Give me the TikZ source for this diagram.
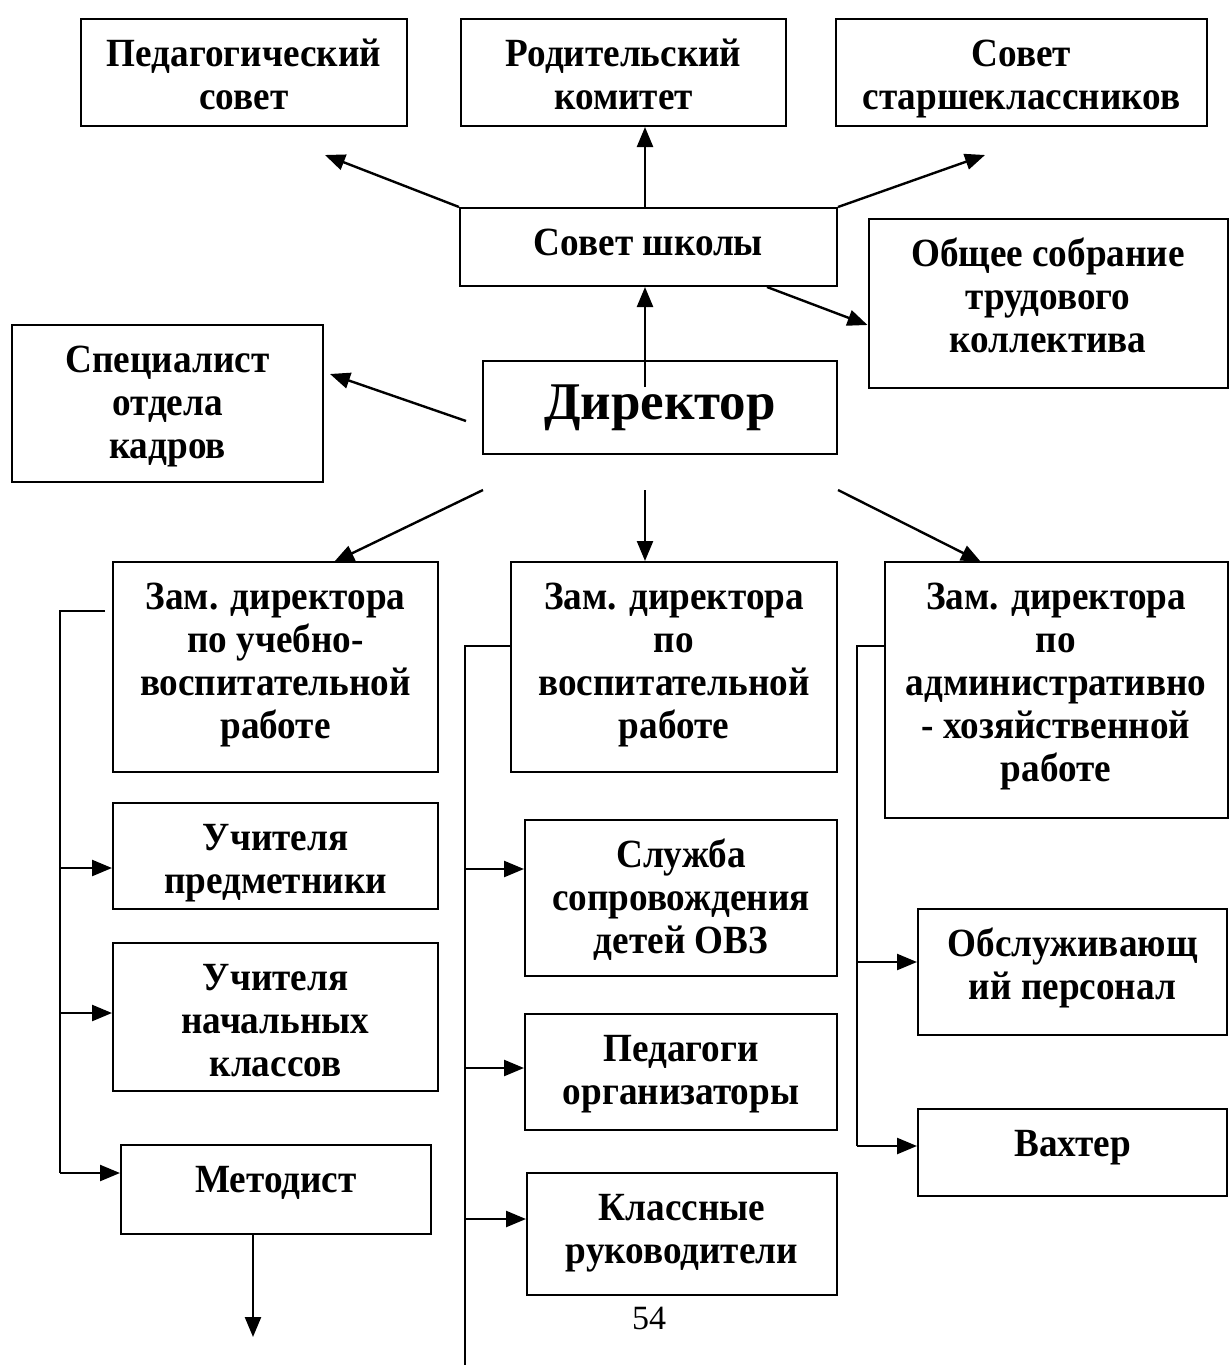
\documentclass[tikz,border=0pt]{standalone}
\usepackage{fontspec}
\setmainfont{Liberation Serif}
\newfontfamily\bxfont{Liberation Serif}[FakeStretch=0.93]
\usetikzlibrary{arrows.meta}
\newcommand{\bt}[3]{\begin{minipage}[c][#2pt][t]{#1pt}\centering\vspace*{17pt}\strut #3\strut\end{minipage}}
\tikzset{
  box/.style={draw, line width=2pt, inner sep=0pt,
    font=\bxfont\fontsize{40}{43}\selectfont\bfseries},
  arr/.style={line width=2.4pt, -{Triangle[length=20pt,width=16pt]}},
  ln/.style={line width=2.4pt}
}
\begin{document}
\begin{tikzpicture}[x=1pt,y=-1pt]
\useasboundingbox (0,0) rectangle (1229,1365);
% top row
\node[box] (ped) at (244,72.5) {\bt{326}{107}{Педагогический\\совет}};
\node[box] (rod) at (623.5,72.5) {\bt{325}{107}{Родительский\\комитет}};
\node[box] (star) at (1021.5,72.5) {\bt{371}{107}{Совет\\старшеклассников}};
% council
\node[box] (sovet) at (648.5,247) {\bt{377}{78}{Совет школы}};
\node[box] (obsh) at (1048,303.5) {\bt{359}{169}{Общее собрание\\трудового\\коллектива}};
\node[box] (spec) at (167.5,403.5) {\bt{311}{157}{Специалист\\отдела\\кадров}};
\node[box, minimum width=354, minimum height=93, font=\fontsize{53}{60}\selectfont\bfseries] (dir) at (660,407.5) {Директор};
% deputies
\node[box] (zuvr) at (275.5,667) {\bt{325}{210}{Зам. директора\\по учебно-\\воспитательной\\работе}};
\node[box] (zvr) at (674,667) {\bt{326}{210}{Зам. директора\\по\\воспитательной\\работе}};
\node[box] (zahr) at (1056,690) {\bt{343}{256}{Зам. директора\\по\\административно\\- хозяйственной\\работе}};
% left column
\node[box] (uchp) at (275.5,856) {\bt{325}{106}{Учителя\\предметники}};
\node[box] (uchn) at (275.5,1017) {\bt{325}{148}{Учителя\\начальных\\классов}};
\node[box] (met) at (276,1189.5) {\bt{310}{89}{Методист}};
% middle column
\node[box] (sluzh) at (681,898) {\bt{312}{156}{Служба\\сопровождения\\детей ОВЗ}};
\node[box] (pedorg) at (681,1072) {\bt{312}{116}{Педагоги\\организаторы}};
\node[box] (klass) at (682,1234) {\bt{310}{122}{Классные\\руководители}};
% right column
\node[box] (obsl) at (1072.5,972) {\bt{309}{126}{Обслуживающ\\ий персонал}};
\node[box] (vakht) at (1072.5,1152.5) {\bt{309}{87}{Вахтер}};
% page number
\node[font=\fontsize{34}{36}\selectfont, inner sep=0pt] (pg) at (649,1318) {54};
% helper coordinates
\coordinate (tpPed) at (325,155);
\coordinate (tpStar) at (985,155);
\coordinate (xA) at (645,0);
\coordinate (sObsh) at (767,0);
\coordinate (tObsh) at (0,325);
\coordinate (dirIn) at (645,387);
\coordinate (sSpec) at (466,421);
\coordinate (tSpec) at (330,374);
\coordinate (dL) at (483,490);
\coordinate (dM) at (645,490);
\coordinate (dR) at (838,490);
\coordinate (tL) at (334,562);
\coordinate (tR) at (981,562);
\coordinate (lTop) at (105,611);
\coordinate (lCorner) at (60,611);
\coordinate (lBot) at (60,1173);
\coordinate (lB1) at (60,868);
\coordinate (lB2) at (60,1013);
\coordinate (mCorner) at (465,646);
\coordinate (mEnd) at (465,1365);
\coordinate (mB1) at (465,869);
\coordinate (mB2) at (465,1068);
\coordinate (mB3) at (465,1219);
\coordinate (rCorner) at (857,646);
\coordinate (rBot) at (857,1146);
\coordinate (rB1) at (857,962);
\coordinate (metOut) at (253,0);
\coordinate (metTip) at (253,1337);
% connectors top
\draw[arr] (sovet.north west) -- (tpPed);
\draw[arr] (sovet.north -| xA) -- (rod.south -| xA);
\draw[arr] (sovet.north east) -- (tpStar);
\draw[arr] (sovet.south -| sObsh) -- (obsh.west |- tObsh);
\draw[arr] (dirIn) -- (sovet.south -| xA);
\draw[arr] (sSpec) -- (tSpec);
\draw[arr] (dL) -- (tL);
\draw[arr] (dM) -- (zvr.north -| dM);
\draw[arr] (dR) -- (tR);
% left bracket
\draw[ln] (lTop) -- (lCorner) -- (lBot);
\draw[arr] (lBot) -- (met.west |- lBot);
\draw[arr] (lB1) -- (uchp.west |- lB1);
\draw[arr] (lB2) -- (uchn.west |- lB2);
\draw[arr] (met.south -| metOut) -- (metTip);
% middle bracket
\draw[ln] (zvr.west |- mCorner) -- (mCorner) -- (mEnd);
\draw[arr] (mB1) -- (sluzh.west |- mB1);
\draw[arr] (mB2) -- (pedorg.west |- mB2);
\draw[arr] (mB3) -- (klass.west |- mB3);
% right bracket
\draw[ln] (zahr.west |- rCorner) -- (rCorner) -- (rBot);
\draw[arr] (rBot) -- (vakht.west |- rBot);
\draw[arr] (rB1) -- (obsl.west |- rB1);
\end{tikzpicture}
\end{document}
